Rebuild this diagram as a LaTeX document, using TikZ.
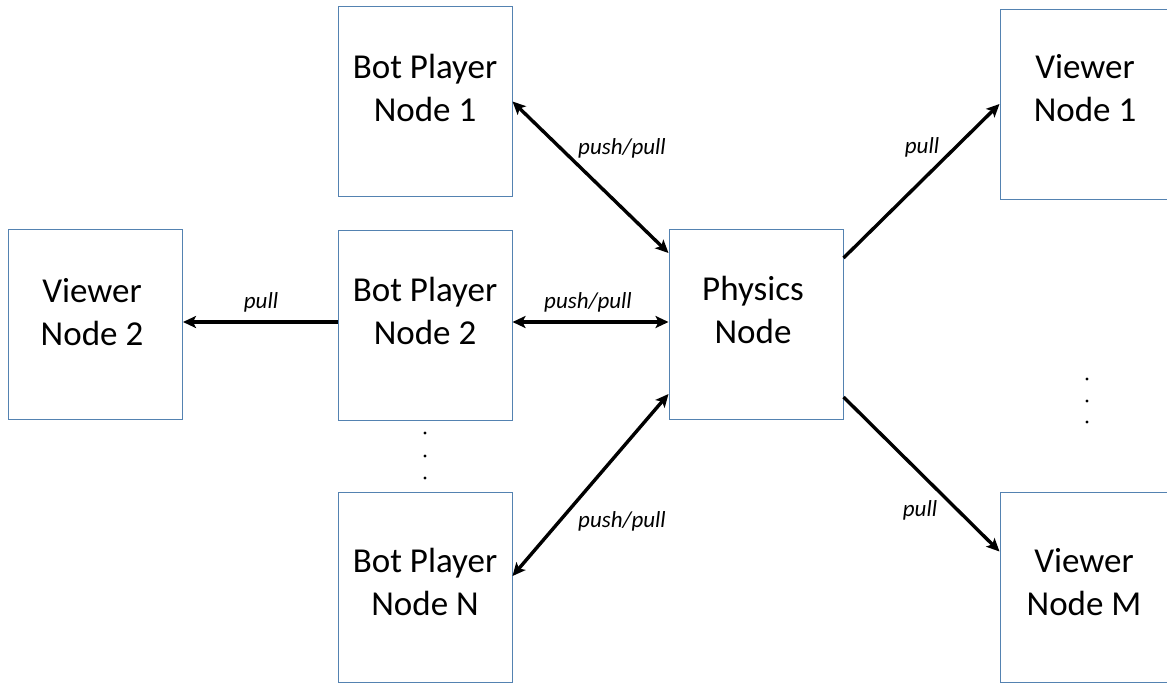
\documentclass[tikz,border=0pt]{standalone}
\usepackage{fontspec}
\setmainfont{Carlito}
\usetikzlibrary{arrows.meta,calc}

\definecolor{boxline}{RGB}{84,130,177}

\tikzset{
  nodebox/.style={draw=boxline, line width=1pt, minimum width=174pt,
    minimum height=190pt, inner sep=0pt, fill=white},
  boxtext/.style={align=center, inner sep=0pt,
    font=\fontsize{35}{43}\selectfont},
  link/.style={line width=3.4pt, black},
  tip/.style={-{Stealth[length=13pt,width=12pt,inset=3pt]}},
  twotip/.style={{Stealth[length=13pt,width=12pt,inset=3pt]}-{Stealth[length=13pt,width=12pt,inset=3pt]}},
  edgetext/.style={font=\fontsize{23}{27}\selectfont\itshape, inner sep=0pt},
}

\begin{document}
\begin{tikzpicture}[x=1pt, y=-1pt]
\useasboundingbox (0,0) rectangle (1167,683);
\clip (0,0) rectangle (1167,683);

% boxes
\node[nodebox] (bot1) at (425,101.5) {};
\node[nodebox] (bot2) at (425,325) {};
\node[nodebox] (botN) at (425,587) {};
\node[nodebox] (view2) at (95.5,324) {};
\node[nodebox] (phys) at (756,324.5) {};
\node[nodebox] (view1) at (1087,104) {};
\node[nodebox] (viewM) at (1087,587) {};

% box captions
\node[boxtext] (bot1t) at (425,88) {Bot Player\\Node 1};
\node[boxtext] (bot2t) at (425,311) {Bot Player\\Node 2};
\node[boxtext] (botNt) at (425,582) {Bot Player\\Node N};
\node[boxtext] (view2t) at (92,312) {Viewer\\Node 2};
\node[boxtext] (physt) at (753,309.5) {Physics\\Node};
\node[boxtext] (view1t) at (1085,88) {Viewer\\Node 1};
\node[boxtext] (viewMt) at (1084,582) {Viewer\\Node M};

% connectors
\draw[link, twotip] (bot1.east) -- ([yshift=-24pt]phys.north west);
\draw[link, twotip] (bot2.east |- 0,322) -- (phys.west |- 0,322);
\draw[link, twotip] ([yshift=11pt]botN.east) -- ([yshift=26pt]phys.south west);
\draw[link, tip] (bot2.west |- 0,322) -- (view2.east |- 0,322);
\draw[link, tip] ([yshift=-29pt]phys.north east) -- (view1.west);
\draw[link, tip] ([yshift=23pt]phys.south east) -- ([yshift=-60pt]viewM.north west);

% connector labels
\node[edgetext] (l1) at (622,148) {push/pull};
\node[edgetext] (l2) at (588,302) {push/pull};
\node[edgetext] (l3) at (622,521) {push/pull};
\node[edgetext] (l4) at (261,302) {pull};
\node[edgetext] (l5) at (922,147) {pull};
\node[edgetext] (l6) at (920,510) {pull};

% ellipsis dots
\foreach \y in {433,456,478} \fill (425,\y) circle (1.6pt);
\foreach \y in {379,401,422} \fill (1087,\y) circle (1.6pt);
\end{tikzpicture}
\end{document}
